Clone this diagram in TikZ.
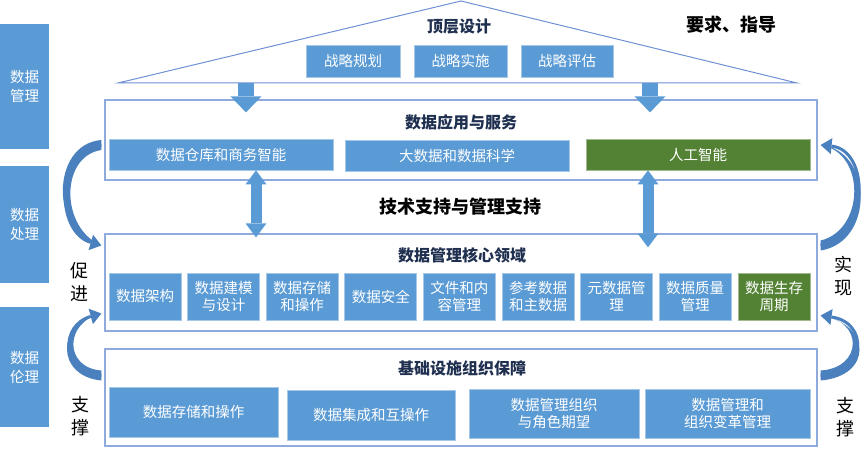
\documentclass[tikz,border=0pt]{standalone}
\usepackage{fontspec}
\setmainfont{Noto Sans CJK SC}
\usepackage{tikz}
\usetikzlibrary{
  arrows.meta,
  positioning,
  calc,
}

\definecolor{boxblue}{HTML}{5B9BD5}
\definecolor{aigreen}{HTML}{548235}
\definecolor{framecol}{HTML}{8FAADC}
\definecolor{titlecol}{HTML}{1F2F4F}
\definecolor{roofcol}{HTML}{6F90D2}
\definecolor{bendcol}{HTML}{4A80BD}

\begin{document}
\begin{tikzpicture}[
  x=1pt, y=-1pt,
  font=\fontsize{14.5}{17}\selectfont,
  box/.style={draw=boxblue!55!white, fill=boxblue, text=white, align=center,
    inner sep=0pt, line width=0.8pt},
  greenbox/.style={box, draw=aigreen!55!white, fill=aigreen},
  sidebox/.style={box, draw=none, font=\fontsize{14.5}{19}\selectfont,
    minimum width=49pt},
  frame/.style={draw=framecol, line width=1.2pt, minimum width=712pt, inner sep=0pt},
  title/.style={font=\fontsize{16}{19}\selectfont\bfseries, text=titlecol},
  note/.style={font=\fontsize{18}{22}\selectfont\bfseries},
  vlabel/.style={font=\fontsize{18}{23}\selectfont, align=center},
  fatarrow/.style={draw=boxblue, line width=16pt,
    -{Triangle[width=31pt,length=16pt,line width=0pt]}},
  dblarrow/.style={draw=boxblue, line width=11pt,
    {Triangle[width=21pt,length=14pt,line width=0pt]}-{Triangle[width=21pt,length=14pt,line width=0pt]}},
  bendarrow/.style={draw=bendcol, line width=3pt,
    -{Triangle[width=16pt,length=11pt,line width=0pt]}},
  bendtail/.style={fill=bendcol},
]
  % 1px = 1pt, y runs down
  \useasboundingbox (0,0) rectangle (865,449);

  % Left column
  \node[sidebox, minimum height=125pt] (mgmt) at (24.5,86.5) {数据\\管理};
  \node[sidebox, minimum height=117pt] (proc) at (24.5,224.5) {数据\\处理};
  \node[sidebox, minimum height=120pt] (ethic) at (24.5,367) {数据\\伦理};

  % Roof
  \coordinate (roofL) at (118,83);
  \coordinate (roofT) at (461,1);
  \coordinate (roofR) at (797,83);
  \draw[roofcol, line width=1pt] (roofL) -- (roofT) -- (roofR) -- cycle;
  \node[title] (top) at (459,27) {顶层设计};
  \node[note] (guide) at (731,25) {要求、指导};
  \node[box, minimum width=94pt, minimum height=32pt] (plan) at (353,61) {战略规划};
  \node[box, minimum width=93pt, minimum height=32pt] (impl) at (460.5,61) {战略实施};
  \node[box, minimum width=92pt, minimum height=32pt] (eval) at (567,61) {战略评估};

  % Frames
  \node[frame, minimum height=80pt] (app) at (461,140) {};
  \node[frame, minimum height=97pt] (core) at (461,282.5) {};
  \node[frame, minimum height=97pt] (infra) at (461,397.5) {};

  % Applications
  \node[title] (apptitle) at (461,122) {数据应用与服务};
  \node[box, minimum width=224pt, minimum height=31pt] (dwbi) at (221,154.5) {数据仓库和商务智能};
  \node[box, minimum width=224pt, minimum height=31pt] (bigdata) at (457,155.5) {大数据和数据科学};
  \node[greenbox, minimum width=224pt, minimum height=31pt] (ai) at (698,154.5) {人工智能};

  \node[note] (support) at (460,207) {技术支持与管理支持};

  % Core areas
  \node[title] (coretitle) at (462,255) {数据管理核心领域};
  \foreach \txt [count=\i from 0] in {数据架构, {数据建模\\与设计}, {数据存储\\和操作},
      数据安全, {文件和内\\容管理}, {参考数据\\和主数据}, {元数据管\\理}, {数据质量\\管理}} {
    \node[box, minimum width=72pt, minimum height=47pt] (core\i) at ({145+78.6*\i},296.5) {\txt};
  }
  \node[greenbox, minimum width=72pt, minimum height=47pt] (core8) at (774,296.5) {数据生存\\周期};

  % Infrastructure
  \node[title] (infratitle) at (462,368) {基础设施组织保障};
  \node[box, minimum width=169pt, minimum height=50pt] (store) at (193.5,412) {数据存储和操作};
  \node[box, minimum width=168pt, minimum height=50pt] (integ) at (371,415) {数据集成和互操作};
  \node[box, minimum width=170pt, minimum height=49pt] (roles) at (554,413.5) {数据管理组织\\与角色期望};
  \node[box, minimum width=165pt, minimum height=49pt] (change) at (727.5,413.5) {数据管理和\\组织变革管理};

  % Block arrows
  \coordinate (dl) at ($(roofL)!0.1885!(roofR)$);
  \coordinate (dr) at ($(roofL)!0.7835!(roofR)$);
  \draw[fatarrow, shorten >=-13pt] (dl) -- (dl |- app.north);
  \draw[fatarrow, shorten >=-13pt] (dr) -- (dr |- app.north);
  \draw[dblarrow, shorten >=-4pt] ($(dwbi.south)+(35,0)$) -- ($(dwbi.south |- core.north)+(35,0)$);
  \draw[dblarrow, shorten >=-14pt] ($(ai.south)+(-50,0)$) -- ($(ai.south |- core.north)+(-50,0)$);

  % Curved arrows (tapered tails)
  \fill[bendtail] ($(app.west)+(-3,0)$) .. controls (50,144) and (50,236) .. ($(core.west)+(-3,-37)$)
    .. controls (60,228) and (60,156) .. ($(app.west)+(-3,10)$) -- cycle;
  \draw[bendarrow] ($(app.west)+(-3,5)$) .. controls (55,150) and (55,232) .. ($(core.west)+(-3,-37)$);

  \fill[bendtail] ($(infra.west)+(-3,-17)$) .. controls (55,376) and (56,322) .. ($(core.west)+(-3,31)$)
    .. controls (64,322) and (64,368) .. ($(infra.west)+(-3,-27)$) -- cycle;
  \draw[bendarrow] ($(infra.west)+(-3,-22)$) .. controls (60,372) and (60,325) .. ($(core.west)+(-3,31)$);

  \fill[bendtail] ($(core.east)+(3,-32)$) .. controls (875,242) and (873,150) .. ($(app.east)+(3,5)$)
    .. controls (866,152) and (865,230) .. ($(core.east)+(3,-42)$) -- cycle;
  \draw[bendarrow] ($(core.east)+(3,-37)$) .. controls (870,236) and (870,150) .. ($(app.east)+(3,5)$);

  \fill[bendtail] ($(infra.east)+(3,-17)$) .. controls (873,376) and (872,324) .. ($(core.east)+(3,33)$)
    .. controls (864,320) and (863,368) .. ($(infra.east)+(3,-27)$) -- cycle;
  \draw[bendarrow] ($(infra.east)+(3,-22)$) .. controls (868,372) and (868,322) .. ($(core.east)+(3,33)$);

  \node[vlabel] (promote) at (79,282) {促\\进};
  \node[vlabel] (supportL) at (80,416) {支\\撑};
  \node[vlabel] (realize) at (843,276) {实\\现};
  \node[vlabel] (supportR) at (845,417) {支\\撑};

\end{tikzpicture}
\end{document}
